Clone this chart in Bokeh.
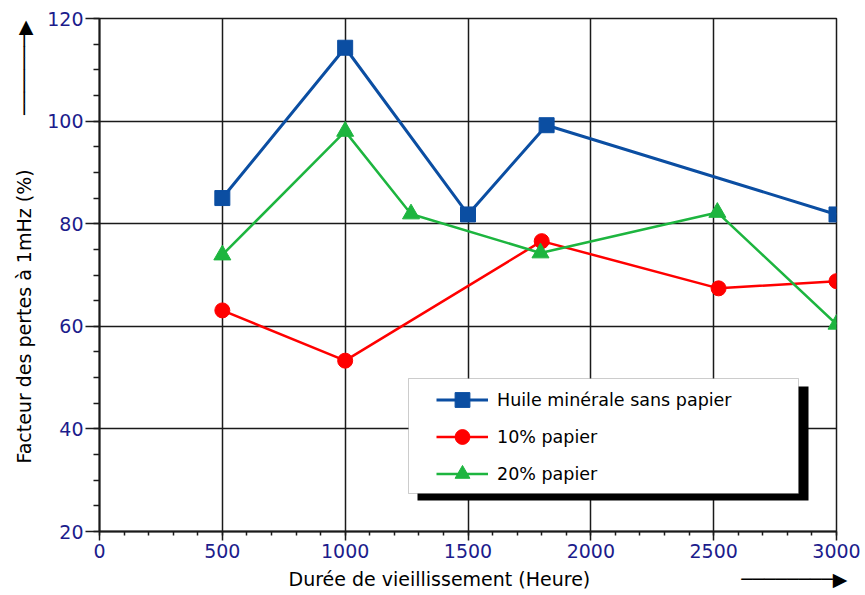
from bokeh.plotting import figure
from bokeh.models import Range1d, Legend, LegendItem, BoxAnnotation, FixedTicker, Title
from bokeh.embed import file_html
from bokeh.resources import INLINE

# ---- data ----
hours_huile = [500, 1000, 1500, 1820, 3000]
pertes_huile = [85.0, 114.3, 81.8, 99.2, 81.8]

hours_10 = [500, 1000, 1800, 2520, 3000]
pertes_10 = [63.1, 53.3, 76.6, 67.4, 68.8]

hours_20 = [500, 1000, 1268, 1795, 2515, 3000]
pertes_20 = [73.9, 98.0, 81.9, 74.3, 82.2, 60.4]

series_names = ["Huile minérale sans papier", "10% papier", "20% papier"]
series_colors = ["#0b4ea2", "#ff0000", "#1db53f"]
series_markers = ["square", "circle", "triangle"]

x_ticks = [0, 500, 1000, 1500, 2000, 2500, 3000]
x_minor = list(range(0, 3001, 100))
y_ticks = [20, 40, 60, 80, 100, 120]
y_minor = list(range(20, 121, 5))

x_title = "Durée de vieillissement (Heure)"
y_title = "Facteur des pertes à 1mHz (%)"

FONT = "DejaVu Sans"
TICK_COLOR = "#1c1c8c"
NB = "\u00a0"
SHAFT = "\u2500"
HEAD = "\u25b6"

p = figure(width=865, height=595, output_backend="svg", toolbar_location=None,
           x_range=Range1d(0, 3000), y_range=Range1d(20, 120),
           min_border_left=98, min_border_right=29, min_border_top=18,
           min_border_bottom=64)
p.background_fill_color = "white"
p.border_fill_color = "white"
p.outline_line_color = "#1a1a1a"
p.outline_line_width = 1.5

p.xaxis.ticker = FixedTicker(ticks=x_ticks, minor_ticks=x_minor)
p.yaxis.ticker = FixedTicker(ticks=y_ticks, minor_ticks=y_minor)
for ax in (p.xaxis, p.yaxis):
    ax.axis_line_color = "#1a1a1a"
    ax.axis_line_width = 2
    ax.major_tick_line_color = "#1a1a1a"
    ax.major_tick_line_width = 1.5
    ax.minor_tick_line_color = "#1a1a1a"
    ax.minor_tick_line_width = 1.5
    ax.major_tick_in = 0
    ax.minor_tick_in = 0
    ax.major_label_text_font = FONT
    ax.major_label_text_font_size = "19px"
    ax.major_label_text_color = TICK_COLOR
p.xaxis.major_tick_out = 9
p.xaxis.minor_tick_out = 4
p.xaxis.major_label_standoff = 3
p.yaxis.major_tick_out = 14
p.yaxis.minor_tick_out = 6
p.yaxis.major_label_standoff = 2

for g in (p.xgrid, p.ygrid):
    g.grid_line_color = "#1a1a1a"
    g.grid_line_width = 1.5

xs = [hours_huile, hours_10, hours_20]
ys = [pertes_huile, pertes_10, pertes_20]
widths = [3, 2.5, 2.5]
sizes = [15, 15, 17]
items = []
for name, color, marker, x, y, w, s in zip(series_names, series_colors, series_markers,
                                           xs, ys, widths, sizes):
    r1 = p.line(x, y, line_color=color, line_width=w)
    r2 = p.scatter(x, y, marker=marker, size=s, fill_color=color, line_color=color)
    items.append(LegendItem(label=name, renderers=[r1, r2]))

# legend shadow and box (screen px, relative to the plot frame)
shadow = BoxAnnotation(left=318, right=709, top=145, bottom=31,
                       left_units="screen", right_units="screen",
                       top_units="screen", bottom_units="screen",
                       fill_color="black", fill_alpha=1.0, line_color=None)
box = BoxAnnotation(left=309, right=699, top=153, bottom=38,
                    left_units="screen", right_units="screen",
                    top_units="screen", bottom_units="screen",
                    fill_color="white", fill_alpha=1.0, line_color="#555555",
                    line_width=1)
p.add_layout(shadow)
p.add_layout(box)

legend = Legend(items=items, location=(336, 38), padding=1, spacing=0,
                glyph_width=52, glyph_height=37, label_standoff=9,
                label_text_font=FONT, label_text_font_size="17.5px",
                label_text_color="black",
                border_line_alpha=0, background_fill_alpha=0)
p.add_layout(legend)

# axis titles with their direction arrows
x_text = x_title + NB * 25 + SHAFT * 8 + HEAD
y_text = y_title + NB * 9 + SHAFT * 7 + HEAD
p.add_layout(Title(text=x_text, align="left", offset=189, standoff=10,
                   text_font=FONT, text_font_size="19px", text_font_style="normal",
                   text_color="black"), "below")
p.add_layout(Title(text=y_text, align="left", offset=68, standoff=20,
                   text_font=FONT, text_font_size="19px", text_font_style="normal",
                   text_color="black"), "left")

open("out.html", "w").write(file_html(p, INLINE))
